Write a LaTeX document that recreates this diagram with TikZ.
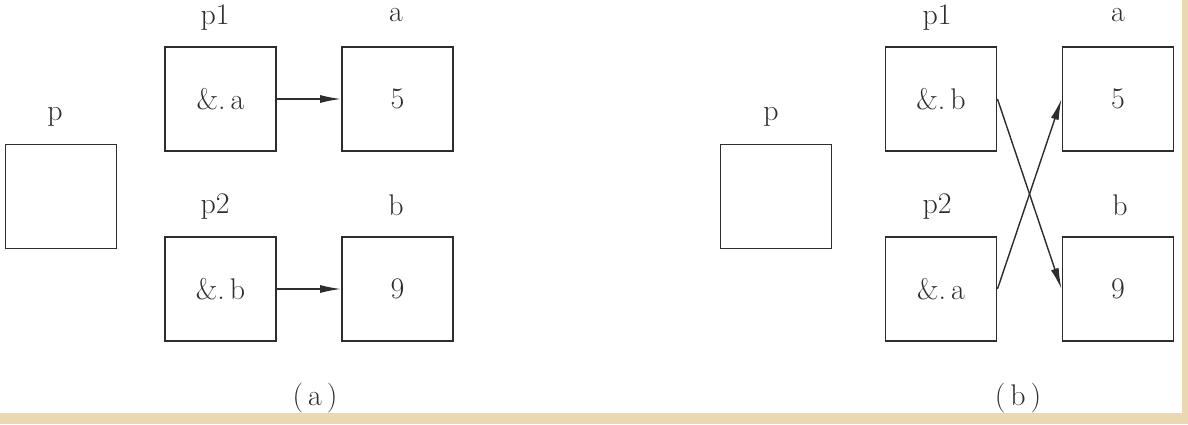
\documentclass[tikz,border=0pt]{standalone}
\usetikzlibrary{arrows.meta}
\definecolor{framebeige}{RGB}{234,216,176}
\definecolor{ink}{RGB}{45,45,45}

\begin{document}
\begin{tikzpicture}[
  cell/.style={draw=ink, line width=1.1pt, minimum width=2.22cm, minimum height=2.08cm,
    inner sep=0pt, text=ink, font=\fontsize{17}{20}\selectfont},
  tag/.style={inner sep=0pt, text=ink, font=\fontsize{17}{20}\selectfont},
  ptr/.style={draw=ink, line width=0.8pt, -{Latex[length=0.42cm,width=0.16cm]}}
]
\fill[framebeige] (0,0) rectangle (23.76,8.48);
\fill[white] (0,0.22) rectangle (23.64,8.48);

%%%%%%%%%%%%%%%%%%%%%%%%%%%%%%%%%%%%%%%% (a)

\node[cell] (pa)  at (1.22, 4.55) {};
\node[cell] (p1a) at (4.41, 6.50) {\&.\,a};
\node[cell] (aa)  at (7.95, 6.50) {5};
\node[cell] (p2a) at (4.41, 2.70) {\&.\,b};
\node[cell] (ba)  at (7.95, 2.70) {9};

\node[tag] (pa-tag)  at (1.10, 6.14) {p};
\node[tag] (p1a-tag) at (4.30, 8.12) {p1};
\node[tag] (aa-tag)  at (7.92, 8.18) {a};
\node[tag] (p2a-tag) at (4.30, 4.34) {p2};
\node[tag] (ba-tag)  at (7.92, 4.38) {b};

\draw[ptr] (p1a) -- (aa);
\draw[ptr] (p2a) -- (ba);

\node[tag] (cap-a) at (6.30, 0.52) {(\,a\,)};

%%%%%%%%%%%%%%%%%%%%%%%%%%%%%%%%%%%%%%%% (b)

\node[cell] (pb)  at (15.52, 4.55) {};
\node[cell] (p1b) at (18.82, 6.50) {\&.\,b};
\node[cell] (ab)  at (22.36, 6.50) {5};
\node[cell] (p2b) at (18.82, 2.70) {\&.\,a};
\node[cell] (bb)  at (22.36, 2.70) {9};

\node[tag] (pb-tag)  at (15.42, 6.14) {p};
\node[tag] (p1b-tag) at (18.74, 8.12) {p1};
\node[tag] (ab-tag)  at (22.36, 8.18) {a};
\node[tag] (p2b-tag) at (18.74, 4.34) {p2};
\node[tag] (bb-tag)  at (22.40, 4.38) {b};

\draw[ptr] (p1b.east) -- (bb.west);
\draw[ptr] (p2b.east) -- (ab.west);

\node[tag] (cap-b) at (20.36, 0.52) {(\,b\,)};

\end{tikzpicture}
\end{document}
